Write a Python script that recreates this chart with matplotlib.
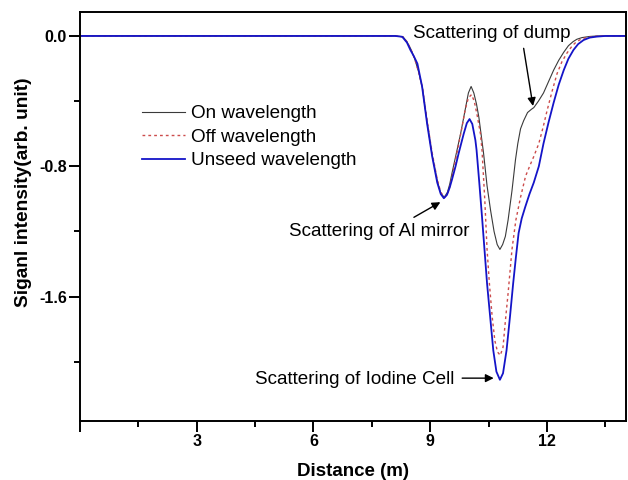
import matplotlib
matplotlib.use("Agg")
import matplotlib.pyplot as plt

plt.rcParams['font.family'] = ['Liberation Sans', 'DejaVu Sans']

# ---- data ----
x_on = [0, 8.1, 8.3, 8.4, 8.5, 8.6, 8.7, 8.8, 8.92, 9.05, 9.18, 9.27, 9.36, 9.44, 9.5, 9.56,
        9.67, 9.78, 9.9, 9.98, 10.05, 10.12, 10.19, 10.25, 10.31, 10.37, 10.46, 10.55, 10.64,
        10.72, 10.79, 10.86, 10.93, 11.0, 11.1, 11.19, 11.25, 11.32, 11.4, 11.5, 11.6, 11.66,
        11.78, 11.91, 12.04, 12.17, 12.3, 12.43, 12.55, 12.67, 12.77, 12.9, 13.1, 13.3, 14]
y_on = [0, 0, -0.005, -0.035, -0.08, -0.14, -0.22, -0.32, -0.53, -0.73, -0.89, -0.965, -0.99,
        -0.96, -0.91, -0.84, -0.72, -0.60, -0.45, -0.35, -0.31, -0.35, -0.42, -0.50, -0.61,
        -0.72, -0.92, -1.07, -1.20, -1.28, -1.31, -1.28, -1.23, -1.13, -0.95, -0.76, -0.66,
        -0.57, -0.52, -0.47, -0.45, -0.44, -0.40, -0.35, -0.28, -0.21, -0.15, -0.10, -0.06,
        -0.035, -0.02, -0.01, -0.003, 0, 0]

x_off = [0, 8.1, 8.3, 8.4, 8.5, 8.6, 8.7, 8.8, 8.92, 9.05, 9.18, 9.27, 9.37, 9.45, 9.52, 9.6,
         9.7, 9.8, 9.9, 9.98, 10.06, 10.13, 10.2, 10.29, 10.33, 10.4, 10.46, 10.52, 10.59,
         10.66, 10.73, 10.8, 10.87, 10.93, 11.0, 11.1, 11.2, 11.32, 11.45, 11.57, 11.66,
         11.79, 11.9, 12.0, 12.13, 12.26, 12.38, 12.51, 12.65, 12.76, 12.86, 13.0, 13.2, 13.4, 14]
y_off = [0, 0, -0.006, -0.035, -0.08, -0.14, -0.22, -0.32, -0.52, -0.72, -0.88, -0.96, -0.99,
         -0.965, -0.91, -0.82, -0.70, -0.58, -0.45, -0.38, -0.36, -0.40, -0.48, -0.60, -0.70,
         -1.0, -1.31, -1.52, -1.72, -1.87, -1.94, -1.96, -1.91, -1.75, -1.58, -1.31, -1.13,
         -0.99, -0.86, -0.79, -0.74, -0.66, -0.56, -0.46, -0.34, -0.23, -0.16, -0.106, -0.06,
         -0.035, -0.022, -0.01, -0.003, 0, 0]

x_unseed = [0, 8.1, 8.28, 8.4, 8.49, 8.58, 8.67, 8.79, 8.92, 9.05, 9.18, 9.27, 9.35, 9.43, 9.5,
            9.56, 9.65, 9.73, 9.86, 9.94, 10.01, 10.08, 10.16, 10.19, 10.26, 10.33, 10.46,
            10.62, 10.7, 10.79, 10.87, 10.96, 11.05, 11.13, 11.2, 11.27, 11.35, 11.44, 11.55,
            11.66, 11.79, 11.91, 12.04, 12.17, 12.3, 12.43, 12.55, 12.68, 12.8, 12.94, 13.1,
            13.28, 13.5, 14]
y_unseed = [0, 0, -0.005, -0.04, -0.086, -0.125, -0.17, -0.31, -0.54, -0.74, -0.90, -0.97,
            -0.996, -0.975, -0.93, -0.88, -0.80, -0.72, -0.60, -0.535, -0.51, -0.54, -0.64,
            -0.70, -0.90, -1.11, -1.52, -1.93, -2.06, -2.11, -2.07, -1.93, -1.72, -1.52, -1.36,
            -1.21, -1.12, -1.05, -0.97, -0.90, -0.80, -0.66, -0.53, -0.41, -0.30, -0.21, -0.14,
            -0.086, -0.05, -0.025, -0.01, -0.004, 0, 0]

labels = ["On wavelength", "Off wavelength", "Unseed wavelength"]
x_ticks = [0, 3, 6, 9, 12]
x_ticklabels = ["", "3", "6", "9", "12"]
y_ticks = [0.0, -0.8, -1.6]
y_ticklabels = ["0.0", "-0.8", "-1.6"]

fig = plt.figure(figsize=(6.28, 4.8), dpi=100)
ax = fig.add_axes([80/628, 1 - 421/480, 546/628, 409/480])

ax.plot(x_on, y_on, color="#3a3a3a", lw=0.8, label=labels[0])
ax.plot(x_off, y_off, color="#cc4c4c", lw=1.0, ls=(0, (2, 2.2)), label=labels[1])
ax.plot(x_unseed, y_unseed, color="#1414c8", lw=1.3, label=labels[2])

ax.set_xlim(0, 14.03)
ax.set_ylim(-2.363, 0.147)
ax.set_xticks(x_ticks)
ax.set_xticklabels(x_ticklabels)
ax.set_xticks([1.5, 4.5, 7.5, 10.5, 13.5], minor=True)
ax.set_yticks(y_ticks)
ax.set_yticklabels(y_ticklabels)
ax.set_yticks([-0.4, -1.2, -2.0], minor=True)

for sp in ax.spines.values():
    sp.set_linewidth(1.4)
ax.tick_params(which="major", direction="out", length=8, width=1.4, labelsize=11.5, pad=1.5)
ax.tick_params(which="minor", direction="out", length=4, width=1.4)
for t in ax.get_xticklabels() + ax.get_yticklabels():
    t.set_fontweight("bold")

ax.set_xlabel("Distance (m)", fontsize=13.5, fontweight="bold", labelpad=10)
ax.set_ylabel("Siganl intensity(arb. unit)", fontsize=13.8, fontweight="bold")
ax.yaxis.set_label_coords(-0.087, 0.56)

ax.legend(loc="upper left", bbox_to_anchor=(0.113, 0.772), frameon=False, fontsize=13.6,
          handlelength=2.3, handletextpad=0.3, labelspacing=0.33, borderpad=0,
          borderaxespad=0)

fs = 13.6
ax.text(10.59, 0.017, "Scattering of dump", fontsize=fs, ha="center", va="center")
ax.annotate("", xy=(11.64, -0.43), xytext=(11.40, -0.076),
            arrowprops=dict(arrowstyle="-|>", color="black", lw=1.0, mutation_scale=12,
                            shrinkA=0, shrinkB=0))
ax.text(7.69, -1.197, "Scattering of Al mirror", fontsize=fs, ha="center", va="center")
ax.annotate("", xy=(9.26, -1.02), xytext=(8.58, -1.113),
            arrowprops=dict(arrowstyle="-|>", color="black", lw=1.0, mutation_scale=12,
                            shrinkA=0, shrinkB=0))
ax.text(7.07, -2.11, "Scattering of Iodine Cell", fontsize=fs, ha="center", va="center")
ax.annotate("", xy=(10.63, -2.10), xytext=(9.82, -2.10),
            arrowprops=dict(arrowstyle="-|>", color="black", lw=1.0, mutation_scale=12,
                            shrinkA=0, shrinkB=0))

fig.savefig("out.png", dpi=100)
